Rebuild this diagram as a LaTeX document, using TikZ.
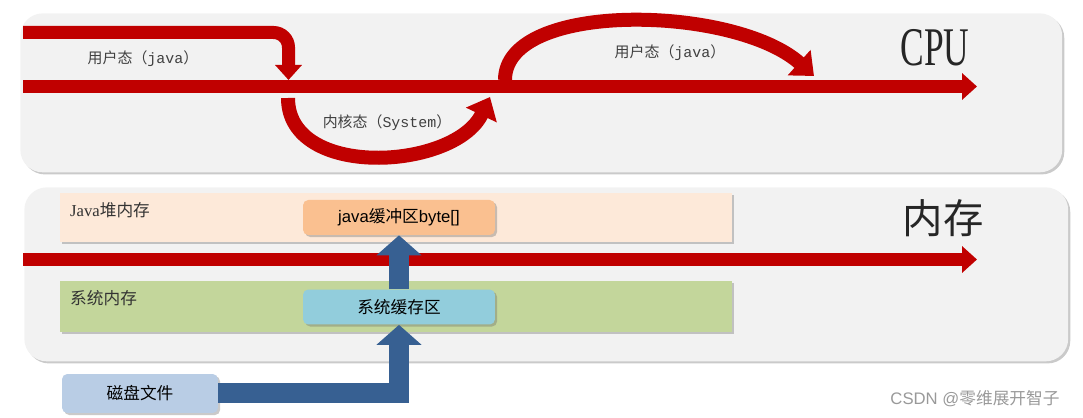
\documentclass[tikz,border=0pt]{standalone}
\usepackage{fontspec}
\setmainfont{Liberation Serif}
\setsansfont{Liberation Sans}
\setmonofont{Liberation Mono}
\newfontfamily\cjk{Noto Sans CJK SC}
\usetikzlibrary{arrows.meta,shadows}
\definecolor{panelgray}{RGB}{242,242,242}
\definecolor{flowred}{RGB}{192,0,0}
\definecolor{heapfill}{RGB}{253,233,217}
\definecolor{sysfill}{RGB}{195,214,155}
\definecolor{bufjava}{RGB}{250,192,144}
\definecolor{bufsys}{RGB}{146,205,220}
\definecolor{diskfill}{RGB}{185,205,229}
\definecolor{copyblue}{RGB}{55,96,146}

\begin{document}
\begin{tikzpicture}[
  x=0.02cm, y=-0.02cm,
  shade/.style={drop shadow={shadow xshift=1.2pt, shadow yshift=-1.2pt, opacity=0.35, fill=black!60}},
  panel/.style={fill=panelgray, rounded corners=0.45cm, anchor=north west, shade},
  zone/.style={anchor=north west, minimum width=13.44cm, shade},
  zonelbl/.style={anchor=west, font=\fontsize{9.5}{11}\selectfont, text=black!80},
  buf/.style={rounded corners=3pt, minimum width=3.84cm, minimum height=0.7cm, font=\fontsize{9.5}{11}\selectfont, shade},
  statelbl/.style={font=\fontsize{8.5}{10}\selectfont, text=black!75},
  redbar/.style={flowred, line width=0.26cm, -{Triangle[length=0.3cm, width=0.52cm]}},
  redcurve/.style={flowred, line width=0.28cm, -{Triangle[length=0.4cm, width=0.66cm]}},
  copyarr/.style={copyblue, line width=0.4cm, -{Triangle[length=0.4cm, width=0.88cm]}}
]
\useasboundingbox (0,0) rectangle (1083,418);

% panels
\node[panel, minimum width=20.84cm, minimum height=3.18cm] (cpu) at (20,13) {};
\node[panel, minimum width=20.88cm, minimum height=3.48cm] (mem) at (24,187) {};

% cpu flow
\coordinate (cpuin) at (23,86.5);
\coordinate (cpuout) at (977,86.5);
\coordinate (userin) at (23,32.5);
\coordinate (usertip) at (288.5,80);
\coordinate (kernin) at (288,98);
\coordinate (kerntip) at (490,97);
\coordinate (backin) at (505,80);
\coordinate (backtip) at (814,76);
\draw[redbar] (cpuin) -- (cpuout);
\draw[redbar, rounded corners=0.3cm] (userin) -| (usertip);
\draw[redcurve] (kernin) .. controls (288,180) and (455,170) .. (kerntip);
\draw[redcurve] (backin) .. controls (505,0) and (735,5) .. (backtip);

\node[statelbl] (user1) at (143,59) {\cjk 用户态（{\ttfamily java}）};
\node[statelbl] (kernel) at (387,123) {\cjk 内核态（{\ttfamily System}）};
\node[statelbl] (user2) at (670,53) {\cjk 用户态（{\ttfamily java}）};
\node[text=black!85] (cpulbl) at (935,48) {\fontsize{31}{31}\selectfont\scalebox{0.65}[1]{CPU}};

% memory
\node[zone, fill=heapfill, minimum height=0.98cm] (heap) at (60,193) {};
\node[zone, fill=sysfill, minimum height=1.02cm] (sysmem) at (60,281) {};
\node[zonelbl] (heaplbl) at (64,210) {Java{\cjk 堆内存}};
\node[zonelbl] (syslbl) at (64,298) {\cjk 系统内存};
\node[text=black!85] (memlbl) at (943,218) {\cjk\fontsize{23}{23}\selectfont 内存};

\coordinate (memin) at (23,259.5);
\coordinate (memout) at (977,259.5);
\draw[redbar] (memin) -- (memout);

\node[buf, fill=bufjava] (javabuf) at (399,217.5) {\sffamily java{\cjk 缓冲区}byte[]};
\node[buf, fill=bufsys] (sysbuf) at (399,307) {\cjk 系统缓存区};
\node[buf, fill=diskfill, minimum width=3.12cm, minimum height=0.78cm] (disk) at (140,393.5) {\cjk 磁盘文件};

% copies
\draw[copyarr] (disk.east) -| (sysbuf.south);
\draw[copyarr] (sysbuf.north) -- (javabuf.south);

\node[text=black!40, font=\sffamily\fontsize{9.5}{11}\selectfont] (mark) at (975,399) {CSDN @{\cjk 零维展开智子}};
\end{tikzpicture}
\end{document}
